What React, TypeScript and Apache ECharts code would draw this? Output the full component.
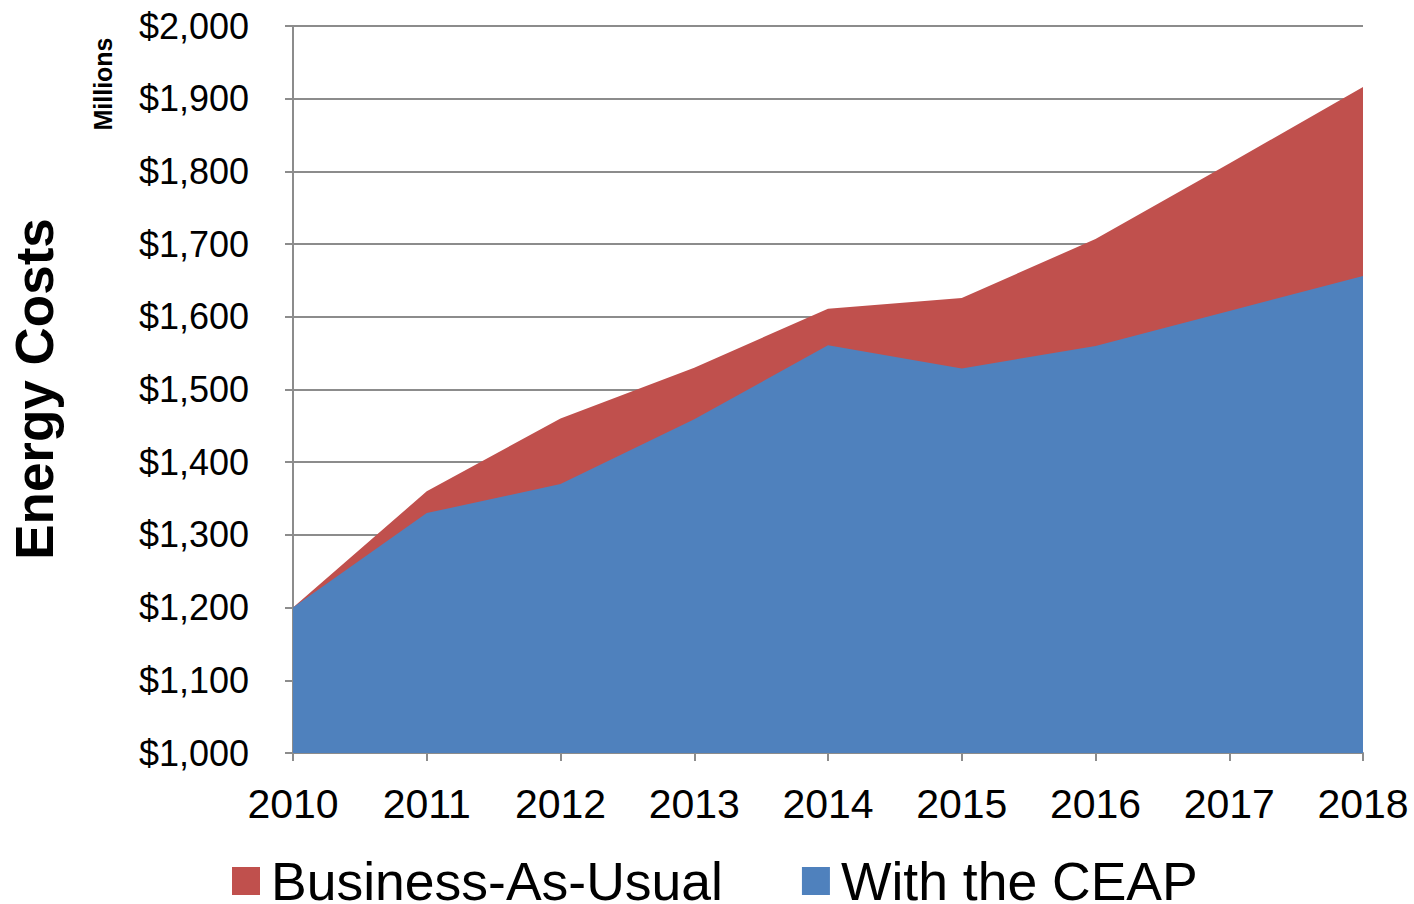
import React, { useEffect, useRef } from "react";
import * as echarts from "echarts";

const years = ["2010", "2011", "2012", "2013", "2014", "2015", "2016", "2017", "2018"];
const businessAsUsual = [1200, 1360, 1460, 1530, 1611, 1626, 1707, 1811, 1916];
const withCEAP = [1200, 1330, 1370, 1459, 1561, 1529, 1560, 1608, 1656];
const yMin = 1000;
const yMax = 2000;
const yStep = 100;

const RED = "#C0504D";
const BLUE = "#4F81BD";
const GRID = "#8c8c8c";
const FONT = "'Liberation Sans', Arial, sans-serif";

export default function App() {
  const ref = useRef<HTMLDivElement>(null);
  useEffect(() => {
    if (!ref.current) return;
    const chart = echarts.init(ref.current, null, { renderer: "svg" });
    chart.setOption({
      animation: false,
      backgroundColor: "#ffffff",
      textStyle: { fontFamily: FONT },
      grid: { left: 293, right: 51, top: 26, bottom: 151, containLabel: false },
      legend: {
        left: 232,
        top: 854,
        padding: 0,
        itemWidth: 28,
        itemHeight: 28,
        itemGap: 79,
        icon: "rect",
        textStyle: {
          fontSize: 53.5,
          lineHeight: 44,
          color: "#000",
          fontFamily: FONT,
          padding: [0, 0, 0, 6],
        },
        data: [
          { name: "Business-As-Usual", itemStyle: { color: RED } },
          { name: "With the CEAP", itemStyle: { color: BLUE } },
        ],
      },
      xAxis: {
        type: "category",
        data: years,
        boundaryGap: false,
        axisLine: { lineStyle: { color: GRID, width: 2 } },
        axisTick: { show: true, length: 8, alignWithLabel: true, lineStyle: { color: GRID, width: 2 } },
        axisLabel: { fontSize: 41, color: "#000", margin: 30, fontFamily: FONT },
        splitLine: { show: false },
      },
      yAxis: {
        type: "value",
        min: yMin,
        max: yMax,
        interval: yStep,
        axisLine: { show: true, lineStyle: { color: GRID, width: 2 } },
        axisTick: { show: true, length: 8, lineStyle: { color: GRID, width: 2 } },
        axisLabel: {
          fontSize: 36,
          color: "#000",
          margin: 44,
          fontFamily: FONT,
          formatter: (v: number) => "$" + v.toLocaleString("en-US"),
        },
        splitLine: { show: true, lineStyle: { color: GRID, width: 2 } },
      },
      graphic: [
        {
          type: "text",
          x: 34,
          y: 389,
          rotation: Math.PI / 2,
          style: {
            text: "Energy Costs",
            font: `bold 53px ${FONT}`,
            fill: "#000",
            align: "center",
            verticalAlign: "middle",
          },
        },
        {
          type: "text",
          x: 103,
          y: 84,
          rotation: Math.PI / 2,
          style: {
            text: "Millions",
            font: `bold 25px ${FONT}`,
            fill: "#000",
            align: "center",
            verticalAlign: "middle",
          },
        },
      ],
      series: [
        {
          name: "Business-As-Usual",
          type: "line",
          data: businessAsUsual,
          symbol: "none",
          lineStyle: { width: 0, color: RED },
          itemStyle: { color: RED },
          areaStyle: { color: RED, opacity: 1, origin: "start" },
          z: 2,
        },
        {
          name: "With the CEAP",
          type: "line",
          data: withCEAP,
          symbol: "none",
          lineStyle: { width: 0, color: BLUE },
          itemStyle: { color: BLUE },
          areaStyle: { color: BLUE, opacity: 1, origin: "start" },
          z: 3,
        },
      ],
    });
    return () => chart.dispose();
  }, []);
  return (
    <div
      ref={ref}
      style={{ position: "absolute", left: 0, top: 0, width: 1414, height: 904 }}
    />
  );
}
